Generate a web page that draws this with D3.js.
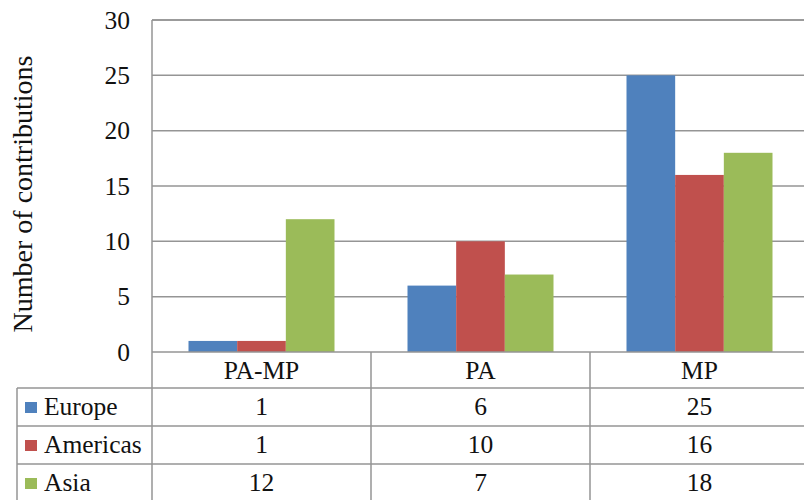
<!DOCTYPE html>
<html>
<head>
<meta charset="utf-8">
<script src="https://cdn.jsdelivr.net/npm/d3@7"></script>
<style>
  html, body { margin: 0; padding: 0; background: #fff; }
  svg { display: block; }
  svg text { font-family: "Liberation Serif", "Tinos", "DejaVu Serif", serif; fill: #111; }
</style>
</head>
<body>
<svg id="chart" width="804" height="500"></svg>
<script>
// Contributions by region and category
const categories = ["PA-MP", "PA", "MP"];
const seriesNames = ["Europe", "Americas", "Asia"];
const europe = [1, 6, 25];
const americas = [1, 10, 16];
const asia = [12, 7, 18];
const yTicks = [0, 5, 10, 15, 20, 25, 30];
const seriesColors = ["#4F81BD", "#C0504D", "#9BBB59"];

const seriesValues = [europe, americas, asia];

const svg = d3.select("#chart");
const W = 804, H = 500;

// plot frame
const plotLeft = 152, plotRight = 809, plotTop = 20, plotBottom = 352;
const tableLeft = 17;
const headerH = 36, rowH = 38;
const lineColor = "#959595";
const fontSize = 25.5;

const x = d3.scaleBand().domain(categories).range([plotLeft, plotRight]).paddingInner(0).paddingOuter(0);
const xs = d3.scaleBand().domain(seriesNames).range([0, x.bandwidth()]).paddingInner(0).paddingOuter(0.75);
const y = d3.scaleLinear().domain([0, 30]).range([plotBottom, plotTop]);

function label(g, tx, ty, str, anchor) {
  g.append("text")
    .attr("x", tx)
    .attr("y", ty)
    .attr("text-anchor", anchor)
    .style("font-size", fontSize + "px")
    .text(str);
}

// gridlines
svg.append("g").selectAll("line").data(yTicks.filter(d => d > 0)).join("line")
  .attr("x1", plotLeft).attr("x2", plotRight)
  .attr("y1", d => y(d)).attr("y2", d => y(d))
  .attr("stroke", lineColor).attr("stroke-width", 1.5);

// bars
const bars = svg.append("g");
seriesNames.forEach((s, si) => {
  bars.selectAll(null).data(categories).join("rect")
    .attr("x", c => x(c) + xs(s))
    .attr("width", xs.bandwidth())
    .attr("y", (c, ci) => y(seriesValues[si][ci]))
    .attr("height", (c, ci) => y(0) - y(seriesValues[si][ci]))
    .attr("fill", seriesColors[si]);
});

// y axis
const yAxis = d3.axisLeft(y).tickValues(yTicks).tickSize(0).tickPadding(22).tickFormat(d3.format("d"));
const ya = svg.append("g").attr("transform", `translate(${plotLeft},0)`).call(yAxis)
  .attr("font-family", null).attr("font-size", null);
ya.select(".domain").remove();
ya.selectAll(".tick text")
  .style("font-size", fontSize + "px")
  .attr("fill", null)
  .attr("dy", "0.32em");

// axis title
svg.append("text")
  .attr("transform", "translate(32,194) rotate(-90)")
  .attr("text-anchor", "middle")
  .style("font-size", "28px")
  .text("Number of contributions");

// plot frame lines
svg.append("line").attr("x1", plotLeft).attr("x2", plotRight).attr("y1", plotTop).attr("y2", plotTop)
  .attr("stroke", lineColor).attr("stroke-width", 1.5);
svg.append("line").attr("x1", plotLeft).attr("x2", plotLeft).attr("y1", plotTop).attr("y2", H)
  .attr("stroke", lineColor).attr("stroke-width", 1.5);
svg.append("line").attr("x1", plotLeft).attr("x2", plotRight).attr("y1", plotBottom).attr("y2", plotBottom)
  .attr("stroke", lineColor).attr("stroke-width", 1.5);

// data table
const table = svg.append("g");
const rowTops = seriesNames.map((s, i) => plotBottom + headerH + i * rowH);
// column dividers
categories.slice(1).forEach(c => {
  table.append("line").attr("x1", x(c)).attr("x2", x(c)).attr("y1", plotBottom).attr("y2", H + 10)
    .attr("stroke", lineColor).attr("stroke-width", 1.5);
});
table.append("line").attr("x1", x("MP") + x.bandwidth()).attr("x2", x("MP") + x.bandwidth())
  .attr("y1", plotBottom).attr("y2", H + 10).attr("stroke", lineColor).attr("stroke-width", 1.5);
// left border of the legend column
table.append("line").attr("x1", tableLeft).attr("x2", tableLeft).attr("y1", rowTops[0]).attr("y2", H + 10)
  .attr("stroke", lineColor).attr("stroke-width", 1.5);
// row lines
rowTops.concat([rowTops[2] + rowH]).forEach(ry => {
  table.append("line").attr("x1", tableLeft).attr("x2", plotRight).attr("y1", ry).attr("y2", ry)
    .attr("stroke", lineColor).attr("stroke-width", 1.5);
});

// category header
categories.forEach(c => label(table, x(c) + x.bandwidth() / 2, plotBottom + 27, c, "middle"));

// series rows
seriesNames.forEach((s, si) => {
  const ry = rowTops[si];
  table.append("rect").attr("x", 25).attr("y", ry + 14).attr("width", 12).attr("height", 11)
    .attr("fill", seriesColors[si]);
  label(table, 44, ry + 27, s, "start");
  categories.forEach((c, ci) => {
    label(table, x(c) + x.bandwidth() / 2, ry + 27, String(seriesValues[si][ci]), "middle");
  });
});
</script>
</body>
</html>
